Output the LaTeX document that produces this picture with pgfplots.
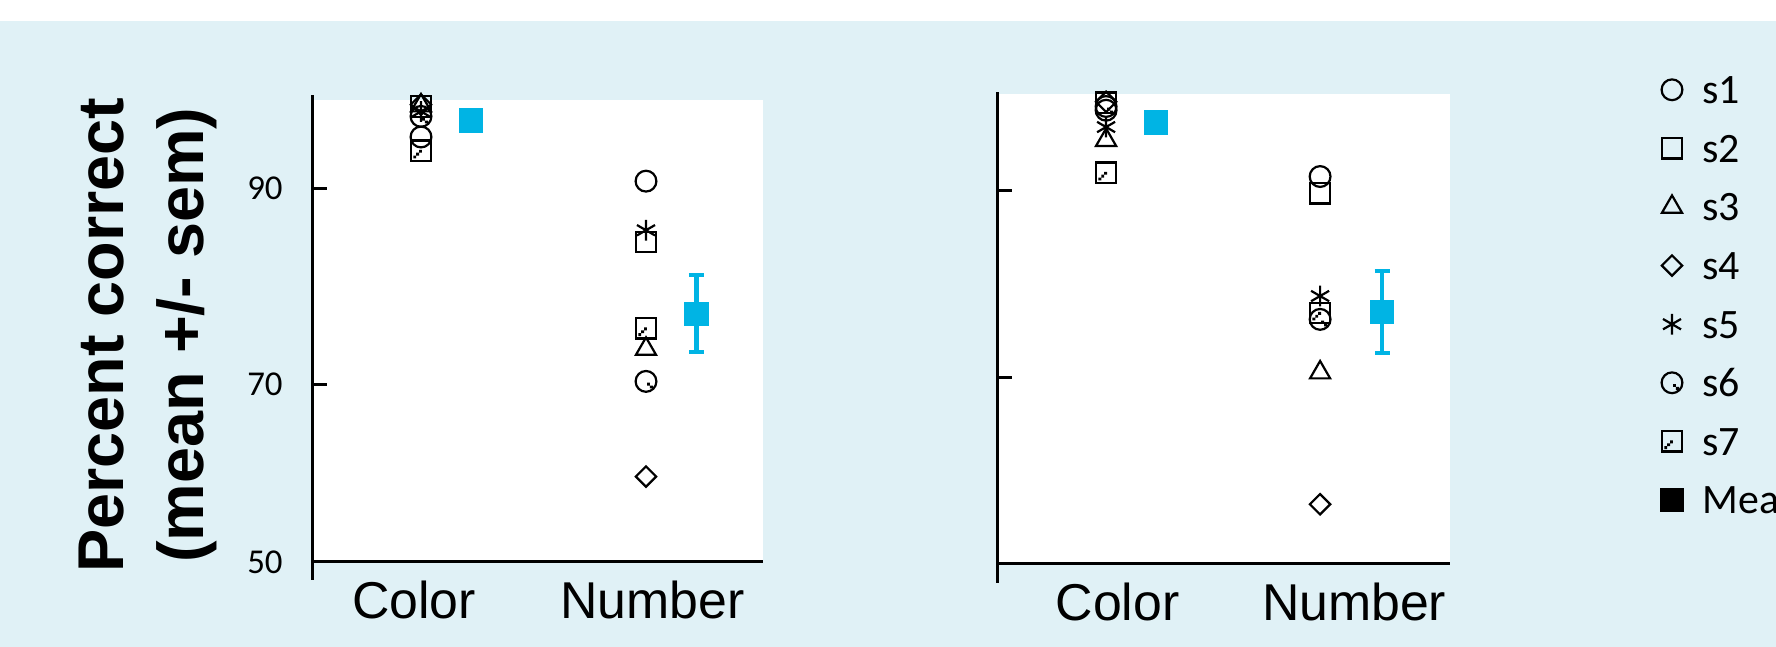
\documentclass[border=0pt]{standalone}
\usepackage{pgfplots}
\pgfplotsset{compat=1.18}
\usepackage{fontspec}
\newfontfamily\lsans{Liberation Sans}
\newfontfamily\carlito{Carlito}
\definecolor{bgblue}{RGB}{224,241,246}
\definecolor{meancyan}{RGB}{0,180,228}

\pgfdeclareplotmark{s6mark}{%
  \pgfpathcircle{\pgfpointorigin}{\pgfplotmarksize}\pgfusepathqstroke
  \pgfpathrectangle{\pgfqpoint{0.1\pgfplotmarksize}{-0.4\pgfplotmarksize}}{\pgfqpoint{0.28\pgfplotmarksize}{0.28\pgfplotmarksize}}%
  \pgfpathrectangle{\pgfqpoint{0.38\pgfplotmarksize}{-0.68\pgfplotmarksize}}{\pgfqpoint{0.28\pgfplotmarksize}{0.28\pgfplotmarksize}}%
  \pgfusepathqfill}
\pgfdeclareplotmark{s7mark}{%
  \pgfpathrectangle{\pgfqpoint{-\pgfplotmarksize}{-\pgfplotmarksize}}{\pgfqpoint{2\pgfplotmarksize}{2\pgfplotmarksize}}\pgfusepathqstroke
  \pgfpathrectangle{\pgfqpoint{-0.75\pgfplotmarksize}{-0.75\pgfplotmarksize}}{\pgfqpoint{0.28\pgfplotmarksize}{0.28\pgfplotmarksize}}%
  \pgfpathrectangle{\pgfqpoint{-0.47\pgfplotmarksize}{-0.47\pgfplotmarksize}}{\pgfqpoint{0.28\pgfplotmarksize}{0.28\pgfplotmarksize}}%
  \pgfpathrectangle{\pgfqpoint{-0.19\pgfplotmarksize}{-0.19\pgfplotmarksize}}{\pgfqpoint{0.28\pgfplotmarksize}{0.28\pgfplotmarksize}}%
  \pgfusepathqfill}

\pgfplotsset{
  sA/.style={only marks, mark=o, mark size=5.2bp, mark options={line width=1.1bp, draw=black}},
  sB/.style={only marks, mark=square, mark size=5.1bp, mark options={line width=1.1bp, draw=black}},
  sC/.style={only marks, mark=triangle, mark size=5.8bp, mark options={line width=1.1bp, draw=black}},
  sD/.style={only marks, mark=square, mark size=3.6bp, mark options={line width=1.1bp, draw=black, rotate=45}},
  sE/.style={only marks, mark=asterisk, mark size=5.2bp, mark options={line width=1.1bp, draw=black}},
  sF/.style={only marks, mark=s6mark, mark size=5.2bp, mark options={line width=1.1bp, draw=black, fill=black}},
  sG/.style={only marks, mark=s7mark, mark size=5.1bp, mark options={line width=1.1bp, draw=black, fill=black}},
  meanst/.style={only marks, mark=square*, mark size=5.8bp, color=meancyan,
    error bars/y dir=both, error bars/y explicit,
    error bars/error bar style={line width=2.3bp, meancyan},
    error bars/error mark options={rotate=90, mark size=3.75bp, line width=2bp, meancyan}},
  panel/.style={
    scale only axis, clip=false,
    axis background/.style={fill=white},
    axis x line*=bottom, axis y line*=left,
    x axis line style={line width=1.5bp},
    y axis line style={draw=none},
    tick align=inside, major tick length=7bp,
    xtick style={draw=none},
    ytick style={line width=1.5bp, black},
    xticklabel style={font=\lsans\fontsize{26}{26}\selectfont, inner sep=0pt, yshift=-9.5bp},
    yticklabel style={font=\carlito\fontsize{17.5}{17.5}\selectfont, inner sep=0pt, xshift=-15bp},
  },
}

\begin{document}
\begin{tikzpicture}
\useasboundingbox (0,0) rectangle (888bp,323.5bp);
\clip (0,0) rectangle (888bp,323.5bp);
\fill[white] (0,0) rectangle (888bp,323.5bp);
\fill[bgblue] (0,0) rectangle (888bp,313bp);

\node[rotate=90, align=center, inner sep=0pt, font=\lsans\bfseries\fontsize{32.5}{40}\selectfont] at (74bp,156bp) {Percent correct\\(mean +/- sem)};

% left panel
\begin{axis}[panel,
  at={(156.5bp,42.5bp)}, anchor=south west,
  width=225bp, height=231bp,
  xmin=0.52, xmax=2.52, ymin=51.9, ymax=98.97,
  xtick={0.969,2.029}, xticklabels={Color,Number},
  ytick={51.9,70,90}, yticklabels={50,70,90},
]
\addplot[sA, forget plot] coordinates {(1,95.2) (2,90.7)};
\addplot[sB, forget plot] coordinates {(1,98.3) (2,84.5)};
\addplot[sC, forget plot] coordinates {(1,98.4) (2,73.6)};
\addplot[sD, forget plot] coordinates {(1,98.5) (2,60.6)};
\addplot[sE, forget plot] coordinates {(1,97.8) (2,85.7)};
\addplot[sF, forget plot] coordinates {(1,97.3) (2,70.3)};
\addplot[sG, forget plot] coordinates {(1,93.8) (2,75.7)};
\addplot[forget plot, meanst] coordinates {(1.22,96.9) +- (0,0.7) (2.224,77.2) +- (0,3.95)};
\draw[line width=1.5bp] ([xshift=-0.5bp,yshift=-9bp]rel axis cs:0,0) -- ([xshift=-0.5bp,yshift=2.5bp]rel axis cs:0,1);
\end{axis}

% right panel
\begin{axis}[panel,
  at={(499bp,41.5bp)}, anchor=south west,
  width=226bp, height=235bp,
  xmin=0.495, xmax=2.607, ymin=50, ymax=100.34,
  xtick={1.054,2.159}, xticklabels={Color,Number},
  ytick={70,90}, yticklabels={},
  legend style={at={(1.4646,1.0396)}, anchor=north west, draw=none, fill=none,
    inner sep=0pt, row sep=15.3bp, column sep=9.5bp,
    font=\carlito\fontsize{21}{21}\selectfont,
    nodes={inner sep=0pt, text height=14bp, text depth=0pt}},
  legend cell align=left,
]
\addlegendimage{sA}\addlegendentry{s1}
\addlegendimage{sB}\addlegendentry{s2}
\addlegendimage{sC}\addlegendentry{s3}
\addlegendimage{sD}\addlegendentry{s4}
\addlegendimage{sE}\addlegendentry{s5}
\addlegendimage{sF}\addlegendentry{s6}
\addlegendimage{sG}\addlegendentry{s7}
\addlegendimage{only marks, mark=square*, mark size=5.8bp, black}\addlegendentry{Mean}
\addplot[sA, forget plot] coordinates {(1,98.6) (2,91.5)};
\addplot[sB, forget plot] coordinates {(1,99.4) (2,89.7)};
\addplot[sC, forget plot] coordinates {(1,95.4) (2,70.5)};
\addplot[sD, forget plot] coordinates {(1,99.5) (2,56.4)};
\addplot[sE, forget plot] coordinates {(1,96.8) (2,78.7)};
\addplot[sF, forget plot] coordinates {(1,99.0) (2,76.2)};
\addplot[sG, forget plot] coordinates {(1,91.9) (2,76.9)};
\addplot[forget plot, meanst] coordinates {(1.232,97.3) +- (0,0.9) (2.29,77.0) +- (0,4.35)};
\draw[line width=1.5bp] ([xshift=-0.5bp,yshift=-9.5bp]rel axis cs:0,0) -- ([xshift=-0.5bp,yshift=1bp]rel axis cs:0,1);
\end{axis}
\end{tikzpicture}
\end{document}
